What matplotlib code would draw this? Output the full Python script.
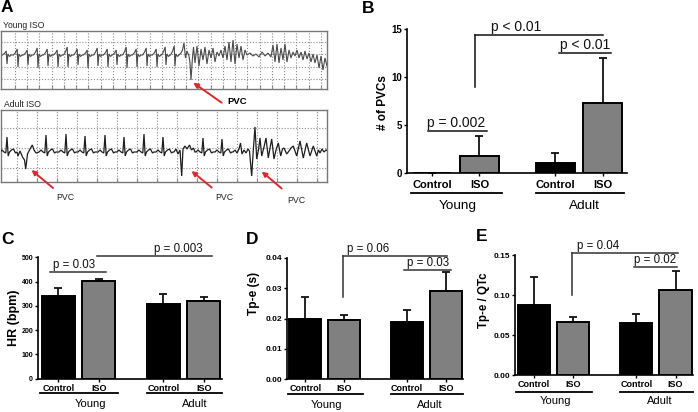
import matplotlib
matplotlib.use("Agg")
import matplotlib.pyplot as plt
from matplotlib import transforms as mtrans
from matplotlib.ticker import FormatStrFormatter

plt.rcParams['font.family'] = ['Liberation Sans', 'DejaVu Sans']

# ---------------- data ----------------
groups = ['Young', 'Adult']
conditions = ['Control', 'ISO', 'Control', 'ISO']

pvc_mean = [0.0, 1.8, 1.05, 7.3]
pvc_err = [0.0, 2.1, 1.05, 4.7]
pvc_ticks = [0, 5, 10, 15]

hr_mean = [342, 403, 307, 322]
hr_err = [30, 9, 40, 15]
hr_ticks = [0, 100, 200, 300, 400, 500]

tpe_mean = [0.0200, 0.0196, 0.0189, 0.0291]
tpe_err = [0.0071, 0.0015, 0.0039, 0.0063]
tpe_ticks = [0.00, 0.01, 0.02, 0.03, 0.04]

ratio_mean = [0.0875, 0.066, 0.0646, 0.106]
ratio_err = [0.0345, 0.007, 0.0114, 0.024]
ratio_ticks = [0.00, 0.05, 0.10, 0.15]

# ECG traces (pixel units of the figure)
young_beat_x = [7, 18, 28, 38, 48, 58, 68, 78, 88, 98, 108, 117, 127, 137, 147, 157, 166, 175]
young_beat_up = [4, 6, 5, 7, 6, 5, 8, 6, 5, 7, 6, 5, 8, 6, 7, 6, 8, 9]
young_beat_dn = [9, 12, 10, 13, 11, 12, 12, 10, 13, 11, 12, 10, 13, 12, 11, 12, 10, 11]
young_tail = [(179, 55), (181, 53), (182.5, 50), (184, 43), (185.5, 58), (187, 51), (189, 56), (190, 63),
              (191, 80), (192.3, 60), (193.5, 47), (195, 63), (197, 46), (199, 66), (201, 49), (203, 60),
              (205, 47), (207, 64), (209, 50), (211, 58), (213, 48), (215, 62), (217, 52), (219, 56),
              (221, 50), (223, 58), (225, 46), (227, 60), (229, 42), (231, 62), (233, 40), (235, 64),
              (237, 44), (239, 58), (241, 46), (243, 60), (245, 50), (247, 55), (250, 53), (253, 56),
              (256, 54), (259, 57), (262, 52), (265, 56), (268, 53), (271, 57), (273, 45), (275, 62),
              (277, 44), (279, 63), (281, 48), (283, 60), (285, 44), (287, 62), (289, 50), (291, 58),
              (293, 52), (295, 56), (297, 50), (299, 58), (301, 52), (303, 60), (305, 51), (307, 59),
              (309, 53), (311, 62), (313, 54), (315, 63), (317, 55), (319, 68), (321, 56), (323, 70),
              (325, 58), (327, 66)]

adult_beat_x = [7, 46, 66, 85, 105, 124, 144, 163, 203, 222]
adult_beat_r = [15, 17, 18, 16, 17, 15, 18, 15, 14, 13]
adult_pvc1 = [(18, 156), (20, 151), (22.5, 157), (24.5, 160), (25.7, 169), (27.5, 154), (30, 149),
              (32.3, 145), (34, 150), (36, 153)]
adult_pvc2 = [(174, 152), (176, 149), (178, 154), (180, 150), (181.7, 176), (183, 149), (185, 146),
              (187, 149), (189.5, 145), (191.5, 150), (193.5, 148), (195, 152)]
adult_pvc3 = [(233, 152), (235, 150), (237, 153), (239, 149), (240.5, 143), (242, 154), (244, 150),
              (246, 153), (248, 149), (249.5, 151), (251.7, 176), (253.3, 150), (255, 127), (256.7, 159),
              (258.5, 150), (260, 138), (261.7, 156), (264, 147), (266, 138), (268.3, 158), (270, 148),
              (271.7, 139), (274, 159), (276, 150), (278.3, 143), (280.7, 156), (282.5, 149), (284, 148),
              (286.7, 154), (289, 151), (291, 148), (293.3, 146), (296.7, 156), (300, 141), (303.3, 158),
              (306.7, 143), (310, 156), (313.3, 146), (316.7, 156), (318.5, 150), (320, 153), (322, 149),
              (324, 152), (326, 150), (328, 151)]

W, H = 698, 412
fig = plt.figure(figsize=(W / 100, H / 100), dpi=100)


def axpx(x0, y0, x1, y1):
    return fig.add_axes([x0 / W, 1 - y1 / H, (x1 - x0) / W, (y1 - y0) / H])


# ---------------- panel A: ECG ----------------
def ecg_box(box, vgrid, hgrid, pts, color, lw):
    ax = axpx(*box)
    ax.set_xlim(box[0], box[2])
    ax.set_ylim(box[3], box[1])
    for x in vgrid:
        ax.axvline(x, color='#8a8a8a', lw=0.8, ls=(0, (1, 1.6)), zorder=1)
    for y in hgrid:
        ax.axhline(y, color='#8a8a8a', lw=0.8, ls=(0, (1, 1.6)), zorder=1)
    pts = sorted(pts)
    ax.plot([p[0] for p in pts], [p[1] for p in pts], color=color, lw=lw, zorder=3,
            solid_joinstyle='miter')
    for s in ax.spines.values():
        s.set_color('#777777')
        s.set_linewidth(1.0)
    ax.set_xticks(vgrid)
    ax.set_yticks([])
    ax.tick_params(axis='x', direction='in', length=3, color='#888888', labelbottom=False)
    return ax


young_pts = []
ydx = [-4.5, -2.5, -0.8, 0, 0.9, 2.5, 4.0]
for x0, u, d in zip(young_beat_x, young_beat_up, young_beat_dn):
    ys = [0, -0.4 * u, -u, d, -1, 1.5, 0]
    young_pts += [(x0 + dx, 55 + dy) for dx, dy in zip(ydx, ys)]
young_pts += young_tail
ecg_box((1, 31, 327, 89), [15 + 12.23 * k for k in range(26)], [42.3, 54.4, 66.5, 78.6],
        young_pts, '#4a4a4a', 0.8)

adult_pts = []
adx = [-7, -5, -3, -1.2, 0, 1.2, 2.5, 4.5, 6.5, 8.5, 10]
for x0, r in zip(adult_beat_x, adult_beat_r):
    ys = [0, -2, 0, 1, -r, 4, 0, -2, -3, 1, 0]
    adult_pts += [(x0 + dx, 152 + dy) for dx, dy in zip(adx, ys)]
adult_pts += adult_pvc1 + adult_pvc2 + adult_pvc3
ecg_box((1, 109.5, 327, 182), [16.7 + 20 * k for k in range(16)], [127.5, 148.3, 168.3],
        adult_pts, '#1e1e1e', 0.9)

# ---------------- bar panels ----------------
pos = [0, 1, 2.6, 3.6]
bar_colors = ['#000000', '#808080', '#000000', '#808080']


def bar_panel(box, means, errs, ticks, ymax, fmt, xlim, tick_fs, xlab_fs, xpad,
              ul_dy, grp_dy, grp_x, grp_fs, sigs, sig_fs, sig_color):
    ax = axpx(*box)
    ax.bar(pos, means, width=0.82, color=bar_colors, edgecolor='black', linewidth=1.4, zorder=3)
    ax.errorbar(pos, means, yerr=[[0] * 4, errs], fmt='none', ecolor='#111111', elinewidth=1.3,
                capsize=3.1, capthick=1.3, zorder=2)
    ax.set_xlim(*xlim)
    ax.set_ylim(0, ymax)
    ax.set_yticks(ticks)
    ax.yaxis.set_major_formatter(FormatStrFormatter(fmt))
    ax.set_xticks(pos)
    ax.set_xticklabels(conditions, fontweight='bold', fontsize=xlab_fs)
    for lab in ax.get_yticklabels():
        lab.set_fontweight('bold')
    ax.tick_params(axis='y', length=2.5, width=1.0, pad=0.8, labelsize=tick_fs)
    ax.tick_params(axis='x', length=1.8, width=1.0, pad=xpad)
    for s in ['top', 'right']:
        ax.spines[s].set_visible(False)
    for s in ['left', 'bottom']:
        ax.spines[s].set_linewidth(1.2)
    base = ax.get_xaxis_transform()
    ul_tr = mtrans.offset_copy(base, fig=fig, y=-ul_dy, units='dots')
    gt_tr = mtrans.offset_copy(base, fig=fig, y=-grp_dy, units='dots')
    for (a, b), gx, g in zip([(-0.45, 1.47), (2.2, 4.04)], grp_x, groups):
        ax.plot([a, b], [0, 0], color='black', lw=1.3, transform=ul_tr, clip_on=False)
        ax.text(gx, 0, g, transform=gt_tr, ha='center', va='center', fontsize=grp_fs)
    for x0, x1, y, txt, tx, leg in sigs:
        ax.plot([x0, x1], [y, y], color=sig_color, lw=1.1, clip_on=False, zorder=4)
        if leg is not None:
            ax.plot([x0, x0], [leg, y], color=sig_color, lw=1.1, clip_on=False, zorder=4)
        ax.annotate(txt, (tx, y), xytext=(0, 0.6), textcoords='offset points', ha='center',
                    va='bottom', fontsize=sig_fs, color='#111111', annotation_clip=False)
    return ax


bar_panel((406.7, 29, 626.7, 173.3), pvc_mean, pvc_err, pvc_ticks, 15, '%d', (-0.533, 4.1),
          7, 8, 2.9, 19.7, 32.7, (0.54, 3.2), 9.7,
          [(-0.08, 1.16, 4.4, 'p = 0.002', 0.5, None),
           (0.905, 3.6, 14.4, 'p < 0.01', 1.78, 9.0),
           (2.67, 3.77, 12.5, 'p < 0.01', 3.22, None)], 10, '#111111')

bar_panel((37.7, 257.3, 221.7, 378.7), hr_mean, hr_err, hr_ticks, 500, '%d', (-0.51, 4.04),
          5.0, 6.5, 1.9, 14, 25.3, (0.8, 3.38), 8,
          [(-0.2, 1.18, 439, 'p = 0.03', 0.39, None),
           (0.95, 3.8, 505, 'p = 0.003', 2.97, None)], 8.3, '#333333')

bar_panel((286.7, 257.7, 463, 379.3), tpe_mean, tpe_err, tpe_ticks, 0.04, '%.2f', (-0.48, 4.04),
          6, 6.5, 1.5, 14.7, 25.3, (0.54, 3.19), 8,
          [(0.97, 3.64, 0.0406, 'p = 0.06', 1.61, 0.0272),
           (2.53, 3.72, 0.0359, 'p = 0.03', 3.15, None)], 8.3, '#333333')

bar_panel((515, 255, 693.3, 375), ratio_mean, ratio_err, ratio_ticks, 0.15, '%.2f', (-0.48, 4.05),
          6, 6.5, 2.1, 16.7, 26.3, (0.56, 3.2), 8,
          [(0.98, 3.65, 0.153, 'p = 0.04', 1.64, 0.10),
           (2.54, 3.63, 0.135, 'p = 0.02', 3.08, None)], 8.3, '#333333')

# ---------------- overlay: labels, arrows ----------------
ov = fig.add_axes([0, 0, 1, 1])
ov.set_xlim(0, W)
ov.set_ylim(H, 0)
ov.axis('off')
ov.set_zorder(10)
ov.patch.set_visible(False)

for lab, x, y in [('A', 7, 7), ('B', 368, 8), ('C', 8, 239), ('D', 252, 239), ('E', 482, 236)]:
    ov.text(x, y, lab, fontsize=12.5, fontweight='bold', ha='center', va='center')

ov.text(3, 25.5, 'Young ISO', fontsize=6.2, ha='left', va='center', color='#222222')
ov.text(4, 104.5, 'Adult ISO', fontsize=6.2, ha='left', va='center', color='#222222')

ov.text(382.5, 103, '# of PVCs', rotation=90, fontsize=8.5, fontweight='bold', ha='center', va='center')
ov.text(14.5, 318, 'HR (bpm)', rotation=90, fontsize=9, fontweight='bold', ha='center', va='center')
ov.text(254, 293, 'Tp-e (s)', rotation=90, fontsize=8.6, fontweight='bold', ha='center', va='center')
ov.text(484, 300, 'Tp-e / QTc', rotation=90, fontsize=8.3, fontweight='bold', ha='center', va='center')

red = '#e3262b'
arrows = [((221.7, 102.7), (193.3, 82.7)), ((53, 188), (31.5, 170)),
          ((211.7, 187.5), (191.5, 171)), ((281.7, 188.5), (261.7, 171.5))]
for tail, head in arrows:
    ov.annotate('', xy=head, xytext=tail,
                arrowprops=dict(arrowstyle='-|>', color=red, lw=1.4, mutation_scale=7,
                                shrinkA=0, shrinkB=0))

ov.text(237.5, 101.5, 'PVC', fontsize=6.8, fontweight='bold', ha='center', va='center')
for x, y in [(65, 197), (224, 197), (296, 200.5)]:
    ov.text(x, y, 'PVC', fontsize=6.3, ha='center', va='center', color='#222222')

fig.savefig('out.png', dpi=100)
